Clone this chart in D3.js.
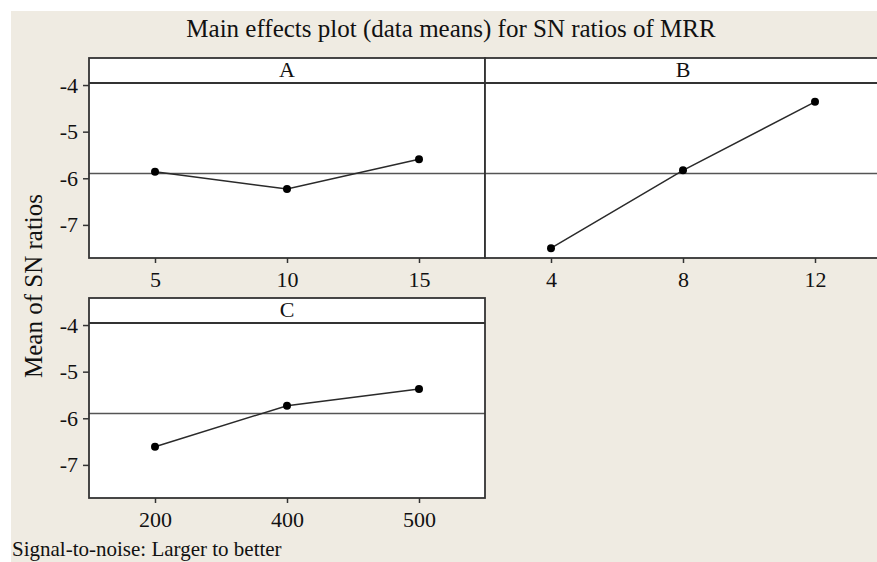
<!DOCTYPE html>
<html>
<head>
<meta charset="utf-8">
<script src="https://cdn.jsdelivr.net/npm/d3@7"></script>
<style>
body { margin: 0; background: #fff; }
text { font-family: "Liberation Serif", "Times New Roman", serif; fill: #111; }
</style>
</head>
<body>
<div id="canvas"></div>
<script>
// ----------------------------------------------------------
// DATA -----------------------------------------------------
// ----------------------------------------------------------

var factors = ["A", "B", "C"];

var levels_A = ["5", "10", "15"];
var levels_B = ["4", "8", "12"];
var levels_C = ["200", "400", "500"];

var sn_A = [-5.86, -6.23, -5.59];
var sn_B = [-7.50, -5.83, -4.36];
var sn_C = [-6.61, -5.73, -5.37];

var y_ticks = [-4, -5, -6, -7];

var title = "Main effects plot (data means) for SN ratios of MRR";
var y_label = "Mean of SN ratios";
var footer = "Signal-to-noise: Larger to better";


// ----------------------------------------------------------
// STRUCTURE ------------------------------------------------
// ----------------------------------------------------------

var W = 877, H = 562;
var panel_w = 396, panel_h = 200, strip_h = 25;

var panels = [
{ name: factors[0], levels: levels_A, values: sn_A, x: 89, y: 58, left_axis: true },
{ name: factors[1], levels: levels_B, values: sn_B, x: 485, y: 58, left_axis: false },
{ name: factors[2], levels: levels_C, values: sn_C, x: 89, y: 298, left_axis: true }
];

var grand_mean = d3.mean(sn_A.concat(sn_B, sn_C));

var svg = d3.select("#canvas").append("svg")
.attr("width", W)
.attr("height", H);

// beige background, white edge top/left
svg.append("rect")
.attr("x", 11).attr("y", 11)
.attr("width", W - 11).attr("height", H - 11)
.style("fill", "#efebe2");

// shared y scale (relative to panel top)
var yScale = d3.scaleLinear()
.domain([-7.71, -3.42])
.range([panel_h, 0]);


// ----------------------------------------------------------
// PANELS ---------------------------------------------------
// ----------------------------------------------------------

panels.forEach(function (p) {

var g = svg.append("g")
.attr("transform", `translate(${p.x}, ${p.y})`);

var xScale = d3.scalePoint()
.domain(p.levels)
.range([0, panel_w])
.padding(0.5);

// panel background
g.append("rect")
.attr("width", panel_w).attr("height", panel_h)
.style("fill", "#fff");

// grand mean reference line
g.append("line")
.attr("x1", 0).attr("x2", panel_w)
.attr("y1", yScale(grand_mean)).attr("y2", yScale(grand_mean))
.style("stroke", "#555").style("stroke-width", 1.4);

// data line
var line = d3.line()
.x(function (d, i) { return xScale(p.levels[i]); })
.y(function (d) { return yScale(d); });

g.append("path")
.datum(p.values)
.attr("d", line)
.style("fill", "none")
.style("stroke", "#2a2a2a")
.style("stroke-width", 1.5);

g.selectAll(".dot")
.data(p.values)
.enter()
.append("circle")
.attr("cx", function (d, i) { return xScale(p.levels[i]); })
.attr("cy", function (d) { return yScale(d); })
.attr("r", 4)
.style("fill", "#000");

// strip
g.append("line")
.attr("x1", 0).attr("x2", panel_w)
.attr("y1", strip_h).attr("y2", strip_h)
.style("stroke", "#333").style("stroke-width", 1.8);

g.append("text")
.attr("x", panel_w / 2)
.attr("y", 19)
.attr("text-anchor", "middle")
.style("font-size", "22px")
.text(p.name);

// frame
g.append("rect")
.attr("width", panel_w).attr("height", panel_h)
.style("fill", "none")
.style("stroke", "#333").style("stroke-width", 1.8);

// x axis
var xAxis = g.append("g")
.attr("transform", `translate(0, ${panel_h})`)
.call(d3.axisBottom(xScale).tickSize(5).tickPadding(8));
xAxis.select(".domain").remove();
xAxis.selectAll("line").style("stroke", "#333").style("stroke-width", 1.5);
xAxis.selectAll("text")
.style("font-size", "22px")
.style("font-family", "Liberation Serif, serif")
.style("fill", "#111");

// y axis
if (p.left_axis) {
var yAxis = g.append("g")
.call(d3.axisLeft(yScale).tickValues(y_ticks).tickSize(6).tickPadding(5)
.tickFormat(function (d) { return String(d).replace("\u2212", "-"); }));
yAxis.select(".domain").remove();
yAxis.selectAll("line").style("stroke", "#333").style("stroke-width", 1.5);
yAxis.selectAll("text")
.style("font-size", "22px")
.style("font-family", "Liberation Serif, serif")
.style("fill", "#111");
}
});


// ----------------------------------------------------------
// TEXT -----------------------------------------------------
// ----------------------------------------------------------

svg.append("text")
.attr("x", 451)
.attr("y", 37)
.attr("text-anchor", "middle")
.style("font-size", "25px")
.text(title);

svg.append("text")
.attr("transform", "translate(42, 286) rotate(-90)")
.attr("text-anchor", "middle")
.style("font-size", "25px")
.text(y_label);

svg.append("text")
.attr("x", 12)
.attr("y", 556)
.style("font-size", "21px")
.text(footer);
</script>
</body>
</html>
